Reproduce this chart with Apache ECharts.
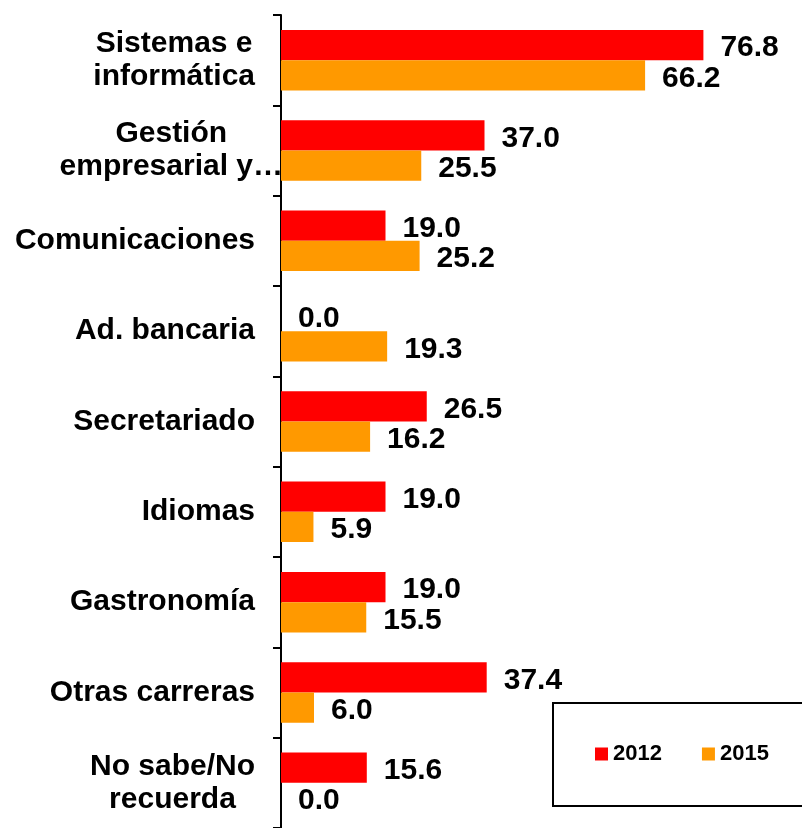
<!DOCTYPE html>
<html>
<head>
<meta charset="utf-8">
<script src="https://cdn.jsdelivr.net/npm/echarts@6/dist/echarts.min.js"></script>
<style>
  html, body { margin: 0; padding: 0; background: #fff }
  #chart { width: 802px; height: 828px }
</style>
</head>
<body>
<div id="chart"></div>
<script>
const categories = [
  'Sistemas e\ninformática',
  'Gestión\nempresarial y…',
  'Comunicaciones',
  'Ad. bancaria',
  'Secretariado',
  'Idiomas',
  'Gastronomía',
  'Otras carreras',
  'No sabe/No\nrecuerda'
]
const years = ['2012', '2015']
const values2012 = [76.8, 37.0, 19.0, 0.0, 26.5, 19.0, 19.0, 37.4, 15.6]
const values2015 = [66.2, 25.5, 25.2, 19.3, 16.2, 5.9, 15.5, 6.0, 0.0]

const FONT = "'Liberation Sans', Arial, sans-serif"
const RED = '#ff0000'
const ORANGE = '#ff9900'

const chart = echarts.init(document.getElementById('chart'))

function valueLabel() {
  return {
    show: true,
    position: 'right',
    distance: 17,
    offset: [0, 3],
    formatter: p => p.value.toFixed(1),
    fontFamily: FONT,
    fontSize: 30,
    fontWeight: 'bold',
    color: '#000'
  }
}

chart.setOption({
  animation: false,
  backgroundColor: '#fff',
  grid: { left: 281, top: 15, width: 495, height: 820, containLabel: false },
  legend: {
    data: years,
    orient: 'horizontal',
    left: 553,
    top: 703,
    width: 300,
    icon: 'rect',
    itemWidth: 13,
    itemHeight: 13,
    itemGap: 40,
    padding: [40, 60, 41, 42],
    borderColor: '#000',
    borderWidth: 2,
    backgroundColor: '#fff',
    textStyle: { fontFamily: FONT, fontSize: 22, fontWeight: 'bold', color: '#000' }
  },
  xAxis: {
    type: 'value',
    min: 0,
    max: 90,
    show: false
  },
  yAxis: {
    type: 'category',
    inverse: true,
    data: categories,
    axisLine: { show: true, lineStyle: { color: '#000', width: 2 } },
    axisTick: { show: true, length: 8, alignWithLabel: false, lineStyle: { color: '#000', width: 2 } },
    axisLabel: {
      margin: -2,
      align: 'right',
      formatter: (v, i) => {
        const key = i === 1 ? 'g' : 'c'
        return v.split('\n').map(line => '{' + key + '|' + line + '}').join('\n')
      },
      rich: {
        c: { align: 'center', padding: [0, 28, 0, 0], fontFamily: FONT, fontSize: 30, fontWeight: 'bold', color: '#000', lineHeight: 33 },
        g: { align: 'center', fontFamily: FONT, fontSize: 30, fontWeight: 'bold', color: '#000', lineHeight: 33 }
      }
    }
  },
  series: [
    {
      name: years[0],
      type: 'bar',
      data: values2012,
      barGap: '0%',
      barCategoryGap: '33%',
      itemStyle: { color: RED },
      label: valueLabel()
    },
    {
      name: years[1],
      type: 'bar',
      data: values2015,
      barGap: '0%',
      barCategoryGap: '33%',
      itemStyle: { color: ORANGE },
      label: valueLabel()
    }
  ]
})
</script>
</body>
</html>
